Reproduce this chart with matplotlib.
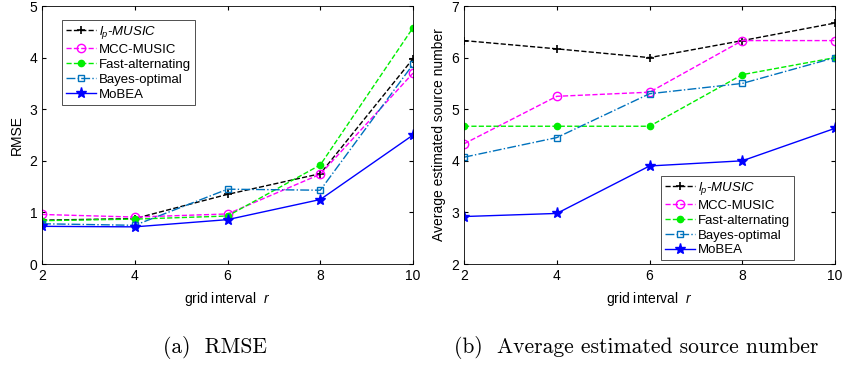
import matplotlib
matplotlib.use('Agg')
import matplotlib.pyplot as plt

plt.rcParams['font.family'] = ['Liberation Sans', 'DejaVu Sans']
plt.rcParams['mathtext.fontset'] = 'custom'
plt.rcParams['mathtext.rm'] = 'Liberation Sans'
plt.rcParams['mathtext.it'] = 'Liberation Sans:italic'

# data
r = [2, 4, 6, 8, 10]
labels = ['$l_p$-MUSIC', 'MCC-MUSIC', 'Fast-alternating', 'Bayes-optimal', 'MoBEA']

rmse_lp = [0.85, 0.88, 1.35, 1.75, 3.98]
rmse_mcc = [0.96, 0.91, 0.97, 1.74, 3.70]
rmse_fast = [0.84, 0.87, 0.93, 1.92, 4.58]
rmse_bayes = [0.78, 0.75, 1.45, 1.43, 3.87]
rmse_mobea = [0.73, 0.72, 0.86, 1.25, 2.50]

num_lp = [6.33, 6.17, 6.00, 6.33, 6.67]
num_mcc = [4.33, 5.25, 5.33, 6.33, 6.33]
num_fast = [4.67, 4.67, 4.67, 5.67, 6.00]
num_bayes = [4.07, 4.45, 5.30, 5.50, 6.00]
num_mobea = [2.92, 2.98, 3.90, 4.00, 4.63]

styles = [
    dict(color='k', ls='--', marker='+', ms=6, mew=1.2),
    dict(color='#ff00ff', ls='--', marker='o', ms=6, mfc='none', mew=1.0),
    dict(color='#00ee00', ls='--', marker='.', ms=9),
    dict(color='#0072bd', ls='-.', marker='s', ms=4, mfc='none', mew=1.0),
    dict(color='#0000ff', ls='-', marker='*', ms=8),
]

fig = plt.figure(figsize=(8.44, 3.65), dpi=100)
ax1 = fig.add_axes([0.0498, 0.2767, 0.4396, 0.7068])
ax2 = fig.add_axes([0.5498, 0.2767, 0.4396, 0.7068])

for ys, st, lb in zip([rmse_lp, rmse_mcc, rmse_fast, rmse_bayes, rmse_mobea], styles, labels):
    ax1.plot(r, ys, lw=1.0, label=lb, **st)
for ys, st, lb in zip([num_lp, num_mcc, num_fast, num_bayes, num_mobea], styles, labels):
    ax2.plot(r, ys, lw=1.0, label=lb, **st)

ax1.set_ylim(0, 5)
ax1.set_ylabel('RMSE', fontsize=10)
ax2.set_ylim(2, 7)
ax2.set_ylabel('Average estimated source number', fontsize=10)

for ax in (ax1, ax2):
    ax.set_xlim(2, 10)
    ax.set_xticks(r)
    ax.set_xlabel('grid interval  $r$', fontsize=10, labelpad=5)
    ax.tick_params(direction='in', labelsize=10, top=True, right=True, length=3)
    for s in ax.spines.values():
        s.set_linewidth(0.6)

leg_kw = dict(fontsize=9.5, frameon=True, fancybox=False, edgecolor='k',
              handlelength=2.3, borderpad=0.3, labelspacing=0.2, handletextpad=0.2,
              borderaxespad=0.0)
l1 = ax1.legend(loc='upper left', bbox_to_anchor=(0.053, 0.945), **leg_kw)
l2 = ax2.legend(loc='lower right', bbox_to_anchor=(0.889, 0.014), **leg_kw)
for l in (l1, l2):
    l.get_frame().set_linewidth(0.6)
    l.get_texts()[0].set_fontstyle('italic')

fig.text(0.255, 0.049, '(a)  RMSE', fontsize=15.5, family='cmr10', ha='center', va='center')
fig.text(0.754, 0.049, '(b)  Average estimated source number', fontsize=15.5,
         family='cmr10', ha='center', va='center')

fig.savefig('out.png', dpi=100)
